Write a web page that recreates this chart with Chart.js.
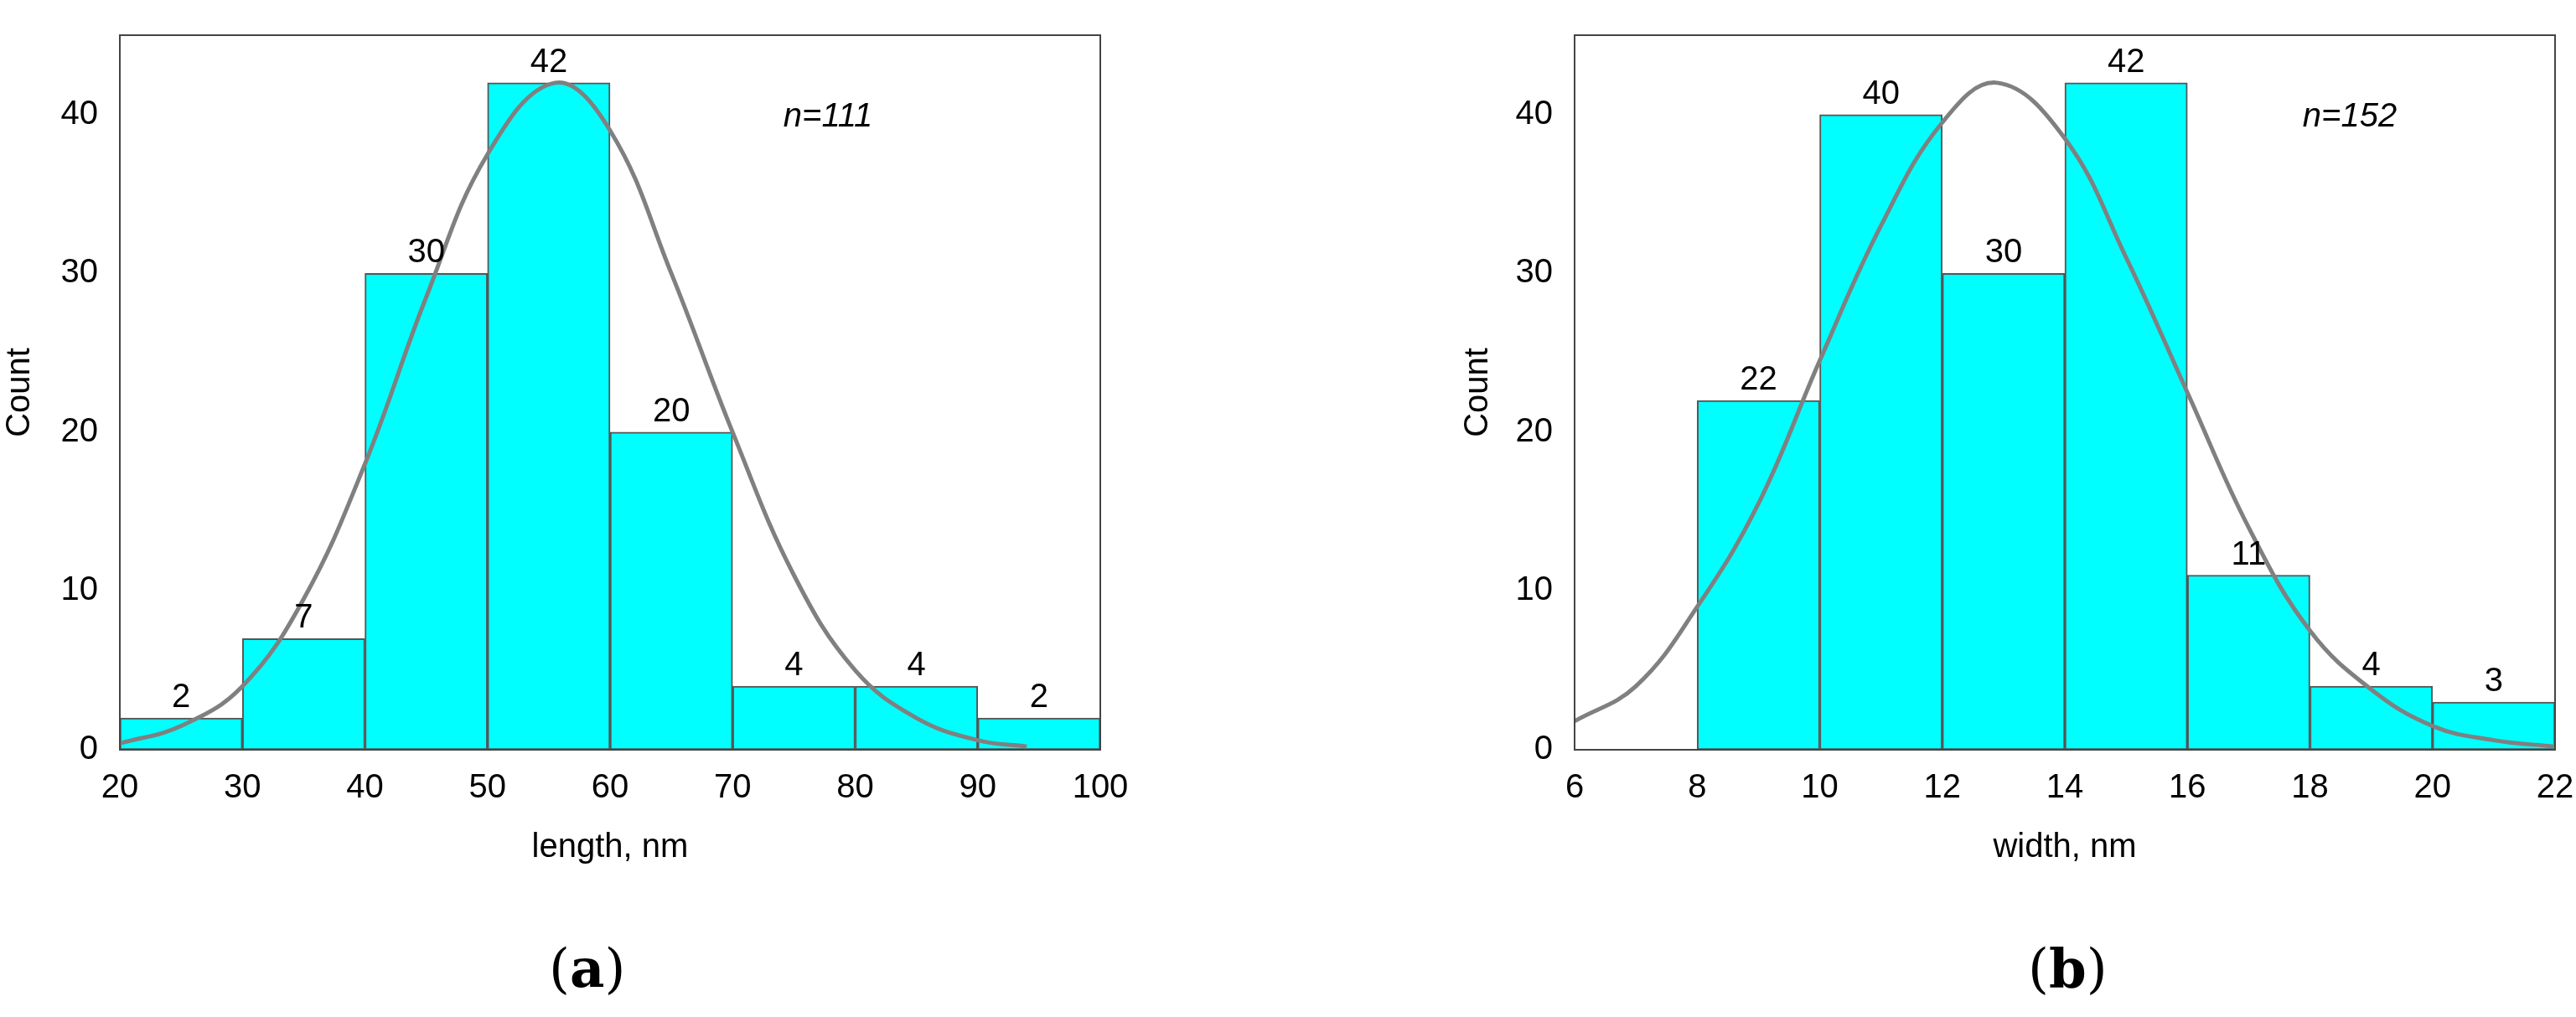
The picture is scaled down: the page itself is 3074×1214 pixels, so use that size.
<!DOCTYPE html>
<html>
<head>
<meta charset="utf-8">
<script src="https://cdn.jsdelivr.net/npm/chart.js@4/dist/chart.umd.min.js"></script>
<style>
  body { margin: 0; background: #fff; width: 3074px; height: 1214px; position: relative; overflow: hidden; }
  .box { position: absolute; top: 0; }
  .cap { position: absolute; top: 1118px; font: 64px "DejaVu Serif", "Liberation Serif", serif; color: #000; }
  .cap b { font-weight: bold; }
</style>
</head>
<body>
<div class="box" style="left:0;width:1400px;height:1040px"><canvas id="chartA"></canvas></div>
<div class="box" style="left:1740px;width:1350px;height:1040px"><canvas id="chartB"></canvas></div>
<div class="cap" style="left:655px">(<b>a</b>)</div>
<div class="cap" style="left:2420px">(<b>b</b>)</div>
<script>
// length histogram (a)
const lengthBins = [25, 35, 45, 55, 65, 75, 85, 95];
const lengthCounts = [2, 7, 30, 42, 20, 4, 4, 2];
const lengthFitX = [20, 25, 30, 35, 40, 45, 50, 55.5, 60, 65, 70, 75, 80, 85, 90, 94];
const lengthFitY = [0.4, 1.5, 4, 9.5, 18, 28.5, 37.5, 42, 39, 30, 20, 11, 5, 2, 0.6, 0.2];

// width histogram (b)
const widthBins = [9, 11, 13, 15, 17, 19, 21];
const widthCounts = [22, 40, 30, 42, 11, 4, 3];
const widthFitX = [6, 7, 8, 9, 10, 11, 12, 12.9, 14, 15, 16, 17, 18, 19, 20, 21, 22];
const widthFitY = [1.8, 4, 9, 15.5, 24.5, 33, 39.5, 42, 38.5, 31, 22.5, 14, 7.5, 3.8, 1.5, 0.6, 0.2];

const font = "'Liberation Sans', Arial, sans-serif";

// labels above bars, n= text and the frame
const extras = {
    id: 'extras',
    afterDatasetsDraw(chart, args, opts) {
        const ctx = chart.ctx;
        const a = chart.chartArea;
        ctx.save();
        ctx.fillStyle = '#000';
        ctx.font = '40px ' + font;
        ctx.textAlign = 'center';
        ctx.textBaseline = 'bottom';
        chart.getDatasetMeta(0).data.forEach((bar, i) => {
            ctx.fillText(chart.data.datasets[0].data[i].y, bar.x, bar.y - 4);
        });
        ctx.font = 'italic 40px ' + font;
        ctx.fillText(opts.n, a.left + opts.nx, a.top + opts.ny);
        ctx.strokeStyle = '#444';
        ctx.lineWidth = 2;
        ctx.strokeRect(a.left, a.top, a.right - a.left, a.bottom - a.top);
        ctx.restore();
    }
};

function makeChart(id, bins, counts, fitX, fitY, xMin, xMax, xStep, xTitle, n, nx, yWidth, padRight) {
    new Chart(document.getElementById(id), {
        type: 'bar',
        data: {
            datasets: [
                {
                    data: bins.map((b, i) => ({ x: b, y: counts[i] })),
                    backgroundColor: '#00FFFF',
                    borderColor: '#555',
                    borderWidth: 2,
                    borderSkipped: false,
                    barPercentage: 1,
                    categoryPercentage: 1,
                    order: 2
                },
                {
                    type: 'line',
                    data: fitX.map((x, i) => ({ x: x, y: fitY[i] })),
                    borderColor: '#808080',
                    borderWidth: 5,
                    pointRadius: 0,
                    tension: 0.4,
                    order: 1
                }
            ]
        },
        options: {
            responsive: true,
            maintainAspectRatio: false,
            animation: false,
            layout: { padding: { top: 25, right: padRight, left: 0, bottom: 0 } },
            plugins: {
                legend: { display: false },
                tooltip: { enabled: false },
                extras: { n: n, nx: nx, ny: 118 }
            },
            scales: {
                x: {
                    type: 'linear',
                    min: xMin,
                    max: xMax,
                    offset: false,
                    grid: { display: false },
                    border: { display: false },
                    ticks: { stepSize: xStep, color: '#000', font: { size: 40, family: font }, padding: 14, maxRotation: 0 },
                    title: { display: true, text: xTitle, color: '#000', font: { size: 40, family: font }, padding: { top: 10 } },
                    afterFit: (s) => { s.height = 145; }
                },
                y: {
                    min: 0,
                    max: 45,
                    grid: { display: false },
                    border: { display: false },
                    ticks: {
                        stepSize: 10, color: '#000', font: { size: 40, family: font }, padding: 18,
                        callback: (v) => (v % 10 === 0 ? v : '')
                    },
                    title: { display: true, text: 'Count', color: '#000', font: { size: 40, family: font }, padding: 0 },
                    afterFit: (s) => { s.width = yWidth; }
                }
            }
        },
        plugins: [extras]
    });
}

makeChart('chartA', lengthBins, lengthCounts, lengthFitX, lengthFitY, 20, 100, 10, 'length, nm', 'n=111', 845, 143, 87);
makeChart('chartB', widthBins, widthCounts, widthFitX, widthFitY, 6, 22, 2, 'width, nm', 'n=152', 925, 139, 41);
</script>
</body>
</html>
